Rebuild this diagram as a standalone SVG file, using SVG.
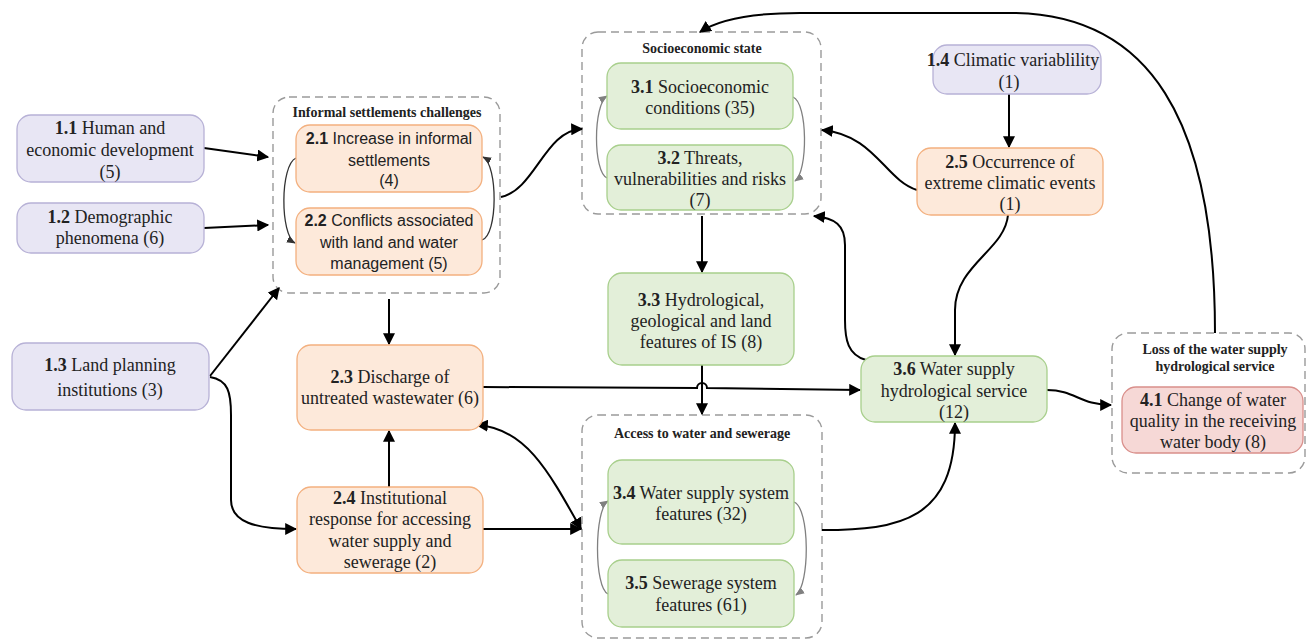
<svg xmlns="http://www.w3.org/2000/svg" width="1307" height="644" viewBox="0 0 1307 644">
<style>
.bg{fill:#ffffff}
.grp{fill:none;stroke:#9a9a9a;stroke-width:1.4;stroke-dasharray:8,5}
.lav{fill:#e8e6f4;stroke:#b7b1d6;stroke-width:1.3}
.org{fill:#fde9da;stroke:#f3b07f;stroke-width:1.3}
.grn{fill:#e3efd9;stroke:#a8cf8c;stroke-width:1.3}
.red{fill:#f6d8d6;stroke:#d98f8b;stroke-width:1.3}
.t{font-family:"Liberation Serif","Times New Roman",serif;font-size:18px;fill:#222;text-anchor:middle}
.s{font-family:"Liberation Sans",Arial,sans-serif;font-size:16px;fill:#222;text-anchor:middle}
.g{font-family:"Liberation Serif","Times New Roman",serif;font-size:14px;font-weight:bold;fill:#222;text-anchor:middle}
.b{font-weight:bold}
.c{fill:none;stroke:#000;stroke-width:2}
.cg{fill:none;stroke:#808080;stroke-width:1.3}
.cd{fill:none;stroke:#333;stroke-width:1.3}
</style>
<defs>
<marker id="ah" viewBox="0 0 10 10" refX="9" refY="5" markerWidth="6" markerHeight="6" orient="auto-start-reverse">
<path d="M0,0 L10,5 L0,10 z" fill="#000"/>
</marker>
<marker id="ahg" viewBox="0 0 10 10" refX="9" refY="5" markerWidth="7" markerHeight="7" orient="auto-start-reverse">
<path d="M0,1 L10,5 L0,9 z" fill="#808080"/>
</marker>
<marker id="ahd" viewBox="0 0 10 10" refX="9" refY="5" markerWidth="7" markerHeight="7" orient="auto-start-reverse">
<path d="M0,1 L10,5 L0,9 z" fill="#333"/>
</marker>
</defs>
<rect class="bg" x="0" y="0" width="1307" height="644"/>

<g id="group-informal">
<rect class="grp" x="273" y="97" width="227" height="196" rx="16"/>
<text class="g" x="387" y="117">Informal settlements challenges</text>
</g>
<g id="group-socioeconomic">
<rect class="grp" x="582" y="32" width="239" height="182" rx="16"/>
<text class="g" x="702" y="53">Socioeconomic state</text>
</g>
<g id="group-access">
<rect class="grp" x="582" y="415" width="240" height="223" rx="16"/>
<text class="g" x="702" y="438">Access to water and sewerage</text>
</g>
<g id="group-loss">
<rect class="grp" x="1112" y="333" width="193" height="140" rx="16"/>
<text class="g" x="1215" y="354">Loss of the water supply</text>
<text class="g" x="1215" y="371">hydrological service</text>
</g>

<g id="connectors">
<path class="c" marker-end="url(#ah)" d="M204,148 L268,157"/>
<path class="c" marker-end="url(#ah)" d="M204,228 L268,225"/>
<path class="c" marker-end="url(#ah)" d="M210,376 L279,288"/>
<path class="c" marker-end="url(#ah)" d="M210,377 C228,380 231,392 231,415 L231,500 C231,522 255,529 296,529"/>
<path class="c" marker-end="url(#ah)" d="M389,299 L389,344"/>
<path class="c" marker-end="url(#ah)" d="M389,487 L389,431"/>
<path class="c" marker-end="url(#ah)" d="M483,387 L697,388 A5,5 0 0 1 707,388 L860,390"/>
<path class="c" marker-end="url(#ah)" d="M483,529 L581,529"/>
<path class="c" marker-start="url(#ah)" marker-end="url(#ah)" d="M477,425 C525,428 548,470 581,529"/>
<path class="c" marker-end="url(#ah)" d="M501,197 C535,190 545,130 582,129"/>
<path class="c" marker-end="url(#ah)" d="M702,216 L702,272"/>
<path class="c" marker-end="url(#ah)" d="M702,365 L702,414"/>
<path class="c" marker-end="url(#ah)" d="M1009,94 L1009,147"/>
<path class="c" marker-end="url(#ah)" d="M917,190 C885,180 875,135 822,130"/>
<path class="c" marker-end="url(#ah)" d="M1008,215 C1005,250 955,265 955,310 L955,355"/>
<path class="c" marker-end="url(#ah)" d="M866,360 C848,355 845,340 845,320 L845,245 C845,225 835,218 814,216"/>
<path class="c" marker-end="url(#ah)" d="M822,530 C900,530 955,520 955,423"/>
<path class="c" marker-end="url(#ah)" d="M1047,390 C1075,390 1080,405 1111,405"/>
<path class="c" marker-end="url(#ah)" d="M1215,333 C1215,120 1150,13 1010,13 L800,13 C745,13 715,22 700,32"/>
<path class="cd" marker-end="url(#ahd)" d="M296,158 C280,165 280,235 295,243"/>
<path class="cd" marker-end="url(#ahd)" d="M482,240 C498,235 498,165 483,157"/>
<path class="cg" marker-end="url(#ahg)" d="M607,178 C593,172 593,105 607,96"/>
<path class="cg" marker-end="url(#ahg)" d="M793,97 C808,103 808,172 795,181"/>
<path class="cg" marker-end="url(#ahg)" d="M608,594 C594,588 594,510 608,501"/>
<path class="cg" marker-end="url(#ahg)" d="M794,502 C810,508 810,585 796,595"/>
</g>

<g id="n11">
<rect class="lav" x="17" y="115" width="187" height="67" rx="14"/>
<text class="t" x="110" y="134"><tspan class="b">1.1</tspan> Human and</text>
<text class="t" x="110" y="156">economic development</text>
<text class="t" x="110" y="178">(5)</text>
</g>
<g id="n12">
<rect class="lav" x="17" y="203" width="187" height="50" rx="14"/>
<text class="t" x="110" y="223"><tspan class="b">1.2</tspan> Demographic</text>
<text class="t" x="110" y="244">phenomena (6)</text>
</g>
<g id="n13">
<rect class="lav" x="12" y="343" width="197" height="67" rx="14"/>
<text class="t" x="110" y="371"><tspan class="b">1.3</tspan> Land planning</text>
<text class="t" x="110" y="396">institutions (3)</text>
</g>
<g id="n14">
<rect class="lav" x="933" y="45" width="168" height="49" rx="14"/>
<text class="t" x="1013" y="66"><tspan class="b">1.4</tspan> Climatic variablility</text>
<text class="t" x="1009" y="88">(1)</text>
</g>

<g id="n21">
<rect class="org" x="296" y="125" width="186" height="67" rx="14"/>
<text class="s" x="389" y="144"><tspan class="b">2.1</tspan> Increase in informal</text>
<text class="s" x="389" y="166">settlements</text>
<text class="s" x="389" y="186">(4)</text>
</g>
<g id="n22">
<rect class="org" x="296" y="208" width="186" height="67" rx="14"/>
<text class="s" x="389" y="226"><tspan class="b">2.2</tspan> Conflicts associated</text>
<text class="s" x="389" y="248">with land and water</text>
<text class="s" x="389" y="269">management (5)</text>
</g>
<g id="n23">
<rect class="org" x="297" y="345" width="186" height="85" rx="14"/>
<text class="t" x="390" y="383"><tspan class="b">2.3</tspan> Discharge of</text>
<text class="t" x="390" y="404">untreated wastewater (6)</text>
</g>
<g id="n24">
<rect class="org" x="297" y="487" width="186" height="86" rx="14"/>
<text class="t" x="390" y="504"><tspan class="b">2.4</tspan> Institutional</text>
<text class="t" x="390" y="525">response for accessing</text>
<text class="t" x="390" y="547">water supply and</text>
<text class="t" x="390" y="568">sewerage (2)</text>
</g>
<g id="n25">
<rect class="org" x="917" y="148" width="186" height="67" rx="14"/>
<text class="t" x="1010" y="168"><tspan class="b">2.5</tspan> Occurrence of</text>
<text class="t" x="1010" y="189">extreme climatic events</text>
<text class="t" x="1010" y="210">(1)</text>
</g>

<g id="n31">
<rect class="grn" x="607" y="63" width="186" height="66" rx="14"/>
<text class="t" x="700" y="93"><tspan class="b">3.1</tspan> Socioeconomic</text>
<text class="t" x="700" y="114">conditions (35)</text>
</g>
<g id="n32">
<rect class="grn" x="607" y="145" width="186" height="65" rx="14"/>
<text class="t" x="700" y="164"><tspan class="b">3.2</tspan> Threats,</text>
<text class="t" x="700" y="185">vulnerabilities and risks</text>
<text class="t" x="700" y="206">(7)</text>
</g>
<g id="n33">
<rect class="grn" x="608" y="273" width="186" height="92" rx="14"/>
<text class="t" x="701" y="306"><tspan class="b">3.3</tspan> Hydrological,</text>
<text class="t" x="701" y="327">geological and land</text>
<text class="t" x="701" y="348">features of  IS (8)</text>
</g>
<g id="n34">
<rect class="grn" x="608" y="460" width="186" height="84" rx="14"/>
<text class="t" x="701" y="499"><tspan class="b">3.4</tspan> Water supply system</text>
<text class="t" x="701" y="520">features (32)</text>
</g>
<g id="n35">
<rect class="grn" x="608" y="560" width="186" height="67" rx="14"/>
<text class="t" x="701" y="589"><tspan class="b">3.5</tspan> Sewerage  system</text>
<text class="t" x="701" y="611">features (61)</text>
</g>
<g id="n36">
<rect class="grn" x="861" y="356" width="186" height="66" rx="14"/>
<text class="t" x="954" y="375"><tspan class="b">3.6</tspan> Water supply</text>
<text class="t" x="954" y="397">hydrological service</text>
<text class="t" x="954" y="418">(12)</text>
</g>

<g id="n41">
<rect class="red" x="1122" y="387" width="181" height="66" rx="14"/>
<text class="t" x="1213" y="406"><tspan class="b">4.1</tspan> Change of water</text>
<text class="t" x="1213" y="427">quality in the receiving</text>
<text class="t" x="1213" y="448">water body (8)</text>
</g>
</svg>
